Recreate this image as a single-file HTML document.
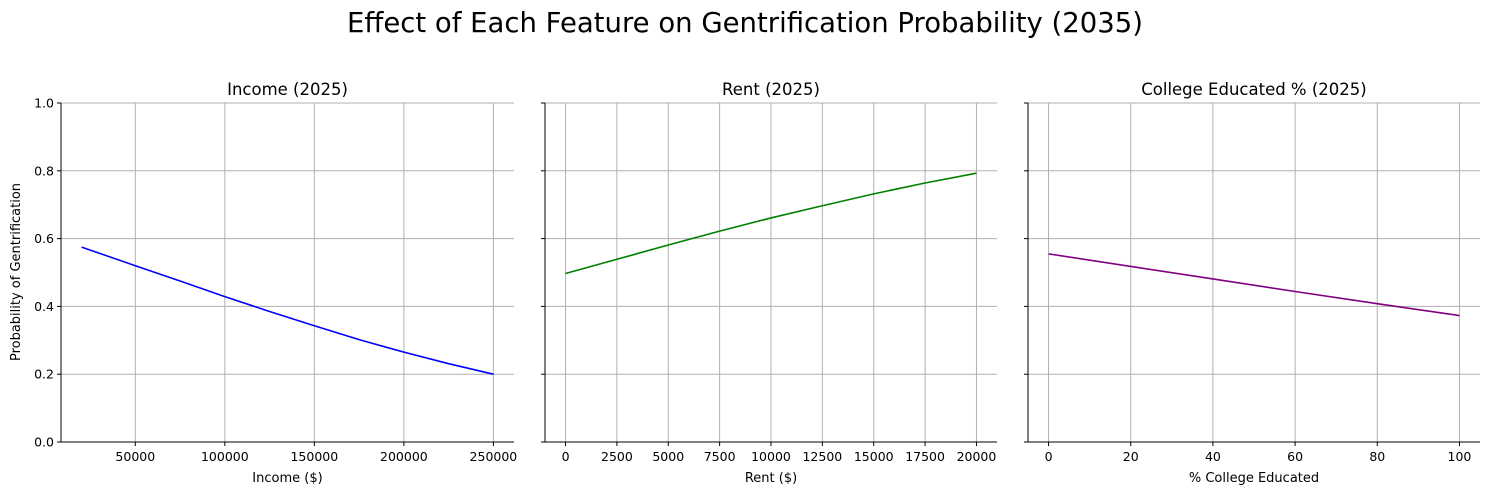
<!DOCTYPE html>
<html><head><meta charset="utf-8"><style>
body{margin:0;background:#fff}
svg{display:block;font-family:"DejaVu Sans","Liberation Sans",sans-serif}
</style></head><body>
<svg id="chart" width="1489" height="495" xmlns="http://www.w3.org/2000/svg">
<text x="745" y="32" text-anchor="middle" font-size="27.5" fill="#000">Effect of Each Feature on Gentrification Probability (2035)</text>
<text transform="translate(20,272) rotate(-90)" text-anchor="middle" font-size="13">Probability of Gentrification</text>
</svg>
<script>
const incomeX=[20000,50000,75000,100000,125000,150000,175000,200000,225000,250000];
const incomeY=[0.575,0.520,0.475,0.429,0.385,0.343,0.302,0.265,0.231,0.200];
const rentX=[0,2500,5000,7500,10000,12500,15000,17500,20000];
const rentY=[0.497,0.539,0.581,0.622,0.661,0.697,0.732,0.764,0.793];
const collegeX=[0,20,40,60,80,100];
const collegeY=[0.555,0.518,0.481,0.444,0.408,0.373];
const yTicks=[0,0.2,0.4,0.6,0.8,1.0];
const incomeTicks=[50000,100000,150000,200000,250000];
const rentTicks=[0,2500,5000,7500,10000,12500,15000,17500,20000];
const collegeTicks=[0,20,40,60,80,100];
const panels=[
 {key:'income',title:'Income (2025)',xlabel:'Income ($)',x0:61,x1:514,dmin:8500,dmax:261500,xs:incomeX,ys:incomeY,ticks:incomeTicks,color:'blue',ylabels:true},
 {key:'rent',title:'Rent (2025)',xlabel:'Rent ($)',x0:545,x1:997,dmin:-1000,dmax:21000,xs:rentX,ys:rentY,ticks:rentTicks,color:'green',ylabels:false},
 {key:'college',title:'College Educated % (2025)',xlabel:'% College Educated',x0:1028,x1:1480,dmin:-5,dmax:105,xs:collegeX,ys:collegeY,ticks:collegeTicks,color:'purple',ylabels:false}
];
const NS='http://www.w3.org/2000/svg';
const svg=document.getElementById('chart');
const yTop=103,yBot=442;
function ys(v){return yBot-(v-0)/(1-0)*(yBot-yTop);}
function mk(tag,attrs,parent){const e=document.createElementNS(NS,tag);for(const k in attrs)e.setAttribute(k,attrs[k]);(parent||svg).appendChild(e);return e;}
panels.forEach(p=>{
 const xs=v=>p.x0+(v-p.dmin)/(p.dmax-p.dmin)*(p.x1-p.x0);
 const g=mk('g',{});
 
 
 p.ticks.forEach(t=>{const x=xs(t);
  const l=mk('line',{x1:x,x2:x,y1:yTop,y2:yBot,stroke:'#b0b0b0','stroke-width':1},g);
  
  mk('line',{x1:x,x2:x,y1:yBot,y2:yBot+4,stroke:'#000'},g);
  const tx=mk('text',{x:x,y:yBot+19,'text-anchor':'middle','font-size':12.5},g);tx.textContent=t;
  
 });
 yTicks.forEach(t=>{const y=ys(t);
  const l=mk('line',{x1:p.x0,x2:p.x1,y1:y,y2:y,stroke:'#b0b0b0','stroke-width':1},g);
  
  mk('line',{x1:p.x0-4,x2:p.x0,y1:y,y2:y,stroke:'#000'},g);
  if(p.ylabels){const tx=mk('text',{x:p.x0-7,y:y+4.5,'text-anchor':'end','font-size':12.5},g);tx.textContent=t.toFixed(1);
   }
 });
 const ax=mk('path',{d:`M${p.x0},${yTop}V${yBot}H${p.x1}`,fill:'none',stroke:'#000','stroke-width':1},g);
 
 const line=mk('polyline',{points:p.xs.map((v,i)=>xs(v)+','+ys(p.ys[i])).join(' '),fill:'none',stroke:p.color,'stroke-width':1.6},g);
 
 const tt=mk('text',{x:(p.x0+p.x1)/2,y:95,'text-anchor':'middle','font-size':16.5},g);tt.textContent=p.title;
 
 const xl=mk('text',{x:(p.x0+p.x1)/2,y:482,'text-anchor':'middle','font-size':13},g);xl.textContent=p.xlabel;
 
});
</script>
</body></html>
